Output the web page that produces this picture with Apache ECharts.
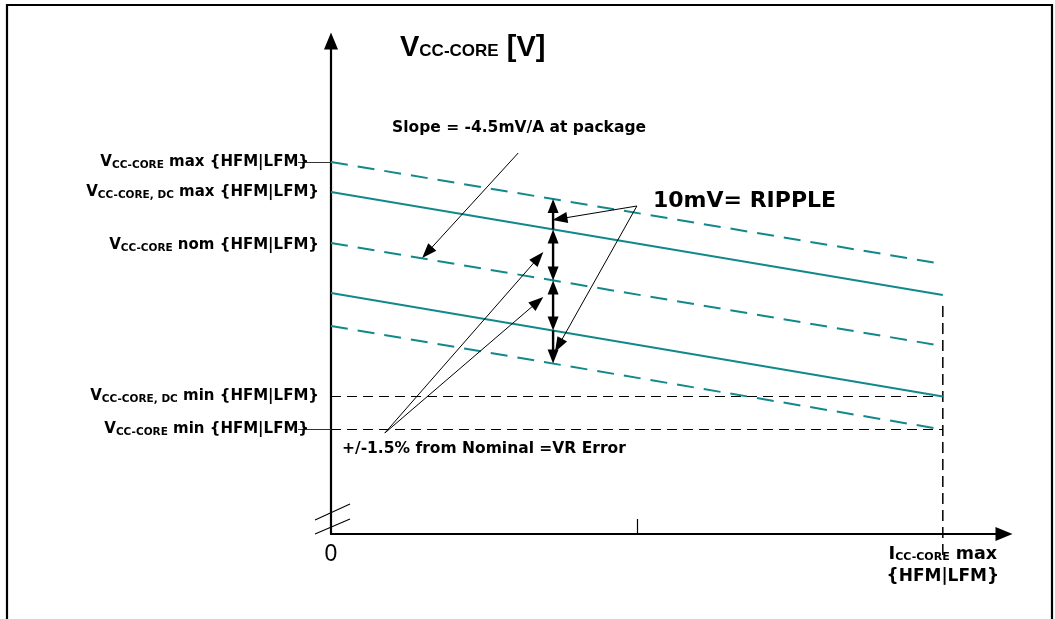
<!DOCTYPE html>
<html><head><meta charset="utf-8">
<script src="https://cdn.jsdelivr.net/npm/echarts@6/dist/echarts.min.js"></script>
<style>html,body{margin:0;padding:0;background:#fff}#c{width:1055px;height:619px}</style>
</head><body><div id="c"></div>
<script>
// ---------------- data (x: load current, Icc max = 100; y: voltage, relative units) ----------------
const loadCurrent = [0, 100];
const vccMax   = [372, 270];   // dashed
const vccDcMax = [342, 239];   // solid
const vccNom   = [291, 188];   // dashed
const vccDcMin = [241, 137.5]; // solid
const vccMin   = [208, 104.5]; // dashed
const dcMinLevel = 137.5;
const minLevel = 104.5;
const iccMax = 100;
const iccMaxLineSpan = [-21, 231];
const midTick = 50;

// tick labels
const yLabelValues = [372, 342, 289, 137.5, 104.5];
const yLabelTexts = [
  '{v|V}{s|CC-CORE}{t| max {HFM|LFM}}{p| }',
  '{v|V}{s|CC-CORE, DC}{t| max {HFM|LFM}}',
  '{v|V}{s|CC-CORE}{t| nom {HFM|LFM}}',
  '{v|V}{s|CC-CORE, DC}{t| min {HFM|LFM}}',
  '{v|V}{s|CC-CORE}{t| min {HFM|LFM}}{p| }'
];
const yConnectorValues = [372, 104.5];
const xLabelValues = [0, 100];
const xLabelTexts = ['{z|0}', '{i|I}{s|CC-CORE}{m| max}\n{b|{HFM|LFM}}'];
const titleText = '{v|V}{s|CC-CORE}{v| [V]}';

// annotation texts
const slopeText = 'Slope = -4.5mV/A at package';
const rippleText = '10mV= RIPPLE';
const vrText = '+/-1.5% from Nominal =VR Error';

// annotation arrows in data coordinates: [x1, y1, x2, y2, headAtStart, headAtEnd]
const rippleX = 36.3;
const rippleArrows = [
  [rippleX, 304.6, rippleX, 335.0, 0, 1],
  [rippleX, 304.6, rippleX, 253.6, 1, 1],
  [rippleX, 253.6, rippleX, 203.6, 1, 1],
  [rippleX, 203.6, rippleX, 170.6, 0, 1]
];
const pointerArrows = [
  [30.6, 381, 14.9, 276, 0, 1],
  [50.0, 328, 36.2, 314, 0, 1],
  [50.0, 328, 36.6, 182, 0, 1],
  [8.8, 101, 34.7, 282, 0, 1],
  [8.8, 101, 34.7, 237, 0, 1]
];

// ---------------- chart ----------------
const TEAL = '#11898b';
const LBL = 'DejaVu Sans';
const chart = echarts.init(document.getElementById('c'), null, {renderer: 'canvas'});

function pairs(xs, ys) { return xs.map((x, i) => [x, ys[i]]); }

function arrowShapes(p1, p2, hs, he, lw, hl, hw, color) {
  const dx = p2[0] - p1[0], dy = p2[1] - p1[1];
  const len = Math.hypot(dx, dy) || 1;
  const ux = dx / len, uy = dy / len;
  const k = hl - 3;
  const a = hs ? [p1[0] + ux * k, p1[1] + uy * k] : p1;
  const b = he ? [p2[0] - ux * k, p2[1] - uy * k] : p2;
  const out = [{type: 'line', shape: {x1: a[0], y1: a[1], x2: b[0], y2: b[1]}, style: {stroke: color, lineWidth: lw}}];
  function head(tip, vx, vy) {
    const bx = tip[0] - vx * hl, by = tip[1] - vy * hl;
    out.push({type: 'polygon', shape: {points: [tip, [bx - vy * hw, by + vx * hw], [bx + vy * hw, by - vx * hw]]},
      style: {fill: color}});
  }
  if (he) head(p2, ux, uy);
  if (hs) head(p1, -ux, -uy);
  return out;
}
function arrowSeries(data, lw, hl, hw) {
  return {
    type: 'custom', silent: true, clip: false, z: 5,
    encode: {x: [0, 2], y: [1, 3]},
    data: data,
    renderItem: function (params, api) {
      const p1 = api.coord([api.value(0), api.value(1)]);
      const p2 = api.coord([api.value(2), api.value(3)]);
      return {type: 'group', children: arrowShapes(p1, p2, api.value(4), api.value(5), lw, hl, hw, '#000')};
    }
  };
}
function lineSeries(data, color, width, dash, z) {
  return {
    type: 'line', data: data, showSymbol: false, symbol: 'none', silent: true, clip: false, z: z || 2,
    lineStyle: {color: color, width: width, type: dash || 'solid'}
  };
}

const subPad = [6, 0, 0, 0];
const option = {
  animation: false,
  backgroundColor: '#fff',
  textStyle: {fontFamily: LBL},
  title: {
    text: titleText, left: 395, top: 28,
    textStyle: {
      rich: {
        v: {fontFamily: 'Liberation Sans', fontWeight: 'bold', fontSize: 29, color: '#000'},
        s: {fontFamily: 'Liberation Sans', fontWeight: 'bold', fontSize: 17, color: '#000', padding: [8, 0, 0, 0]}
      }
    }
  },
  grid: {left: 331, right: 51, top: 41, bottom: 85, containLabel: false},
  xAxis: {
    type: 'value', min: 0, max: 110,
    splitLine: {show: false},
    axisLine: {show: true, onZero: false, symbol: ['none', 'triangle'], symbolSize: [14, 17],
      lineStyle: {color: '#000', width: 2.2}},
    axisTick: {show: true, inside: true, length: 15, customValues: [midTick], lineStyle: {color: '#000', width: 1.2}},
    axisLabel: {
      show: true, customValues: xLabelValues, margin: 9, color: '#000',
      formatter: v => xLabelTexts[xLabelValues.indexOf(v)],
      rich: {
        z: {fontFamily: 'Liberation Sans', fontWeight: 'normal', fontSize: 23, color: '#000', lineHeight: 24},
        i: {fontFamily: LBL, fontWeight: 'bold', fontSize: 18, color: '#000', lineHeight: 23},
        s: {fontFamily: LBL, fontWeight: 'bold', fontSize: 11, color: '#000', padding: subPad},
        m: {fontFamily: LBL, fontWeight: 'bold', fontSize: 17.5, color: '#000'},
        b: {fontFamily: LBL, fontWeight: 'bold', fontSize: 17, color: '#000', lineHeight: 22}
      },
      fontFamily: LBL, fontWeight: 'bold', fontSize: 17
    }
  },
  yAxis: {
    type: 'value', min: 0, max: 493,
    splitLine: {show: false},
    axisLine: {show: true, onZero: false, symbol: ['none', 'triangle'], symbolSize: [14, 17],
      lineStyle: {color: '#000', width: 2.2}},
    axisTick: {show: true, inside: false, length: 33, customValues: yConnectorValues,
      lineStyle: {color: '#333', width: 1}},
    axisLabel: {
      show: true, customValues: yLabelValues, margin: 12, color: '#000',
      fontFamily: LBL, fontWeight: 'bold', fontSize: 15,
      formatter: v => yLabelTexts[yLabelValues.indexOf(v)],
      rich: {
        v: {fontFamily: LBL, fontWeight: 'bold', fontSize: 15, color: '#000'},
        s: {fontFamily: LBL, fontWeight: 'bold', fontSize: 10.5, color: '#000', padding: subPad},
        t: {fontFamily: LBL, fontWeight: 'bold', fontSize: 15, color: '#000'},
        p: {fontSize: 15, width: 10}
      }
    }
  },
  graphic: [
    {type: 'rect', silent: true, shape: {x: 7, y: 5, width: 1045, height: 700},
      style: {fill: 'none', stroke: '#000', lineWidth: 2.2}},
    {type: 'line', silent: true, shape: {x1: 315, y1: 520, x2: 350, y2: 504}, style: {stroke: '#000', lineWidth: 1.1}},
    {type: 'line', silent: true, shape: {x1: 315, y1: 534, x2: 350, y2: 519}, style: {stroke: '#000', lineWidth: 1.1}},
    {type: 'text', silent: true, x: 392, y: 128,
      style: {text: slopeText, font: 'bold 15.5px "DejaVu Sans"', fill: '#000', align: 'left', verticalAlign: 'middle',
        textAlign: 'left', textVerticalAlign: 'middle'}},
    {type: 'text', silent: true, x: 653, y: 201,
      style: {text: rippleText, font: 'bold 22px "DejaVu Sans"', fill: '#000', align: 'left', verticalAlign: 'middle',
        textAlign: 'left', textVerticalAlign: 'middle'}},
    {type: 'text', silent: true, x: 342, y: 449,
      style: {text: vrText, font: 'bold 15.5px "DejaVu Sans"', fill: '#000', align: 'left', verticalAlign: 'middle',
        textAlign: 'left', textVerticalAlign: 'middle'}}
  ],
  series: [
    lineSeries(pairs(loadCurrent, vccMax), TEAL, 2, [17, 10]),
    lineSeries(pairs(loadCurrent, vccDcMax), TEAL, 2, 'solid'),
    lineSeries(pairs(loadCurrent, vccNom), TEAL, 2, [17, 10]),
    lineSeries(pairs(loadCurrent, vccDcMin), TEAL, 2, 'solid'),
    lineSeries(pairs(loadCurrent, vccMin), TEAL, 2, [17, 10]),
    lineSeries([[0, dcMinLevel], [iccMax, dcMinLevel]], '#000', 1.1, [10, 6], 1),
    lineSeries([[0, minLevel], [iccMax, minLevel]], '#000', 1.1, [10, 6], 1),
    lineSeries([[iccMax, iccMaxLineSpan[0]], [iccMax, iccMaxLineSpan[1]]], '#000', 1.5, [11, 6], 1),
    arrowSeries(rippleArrows, 2.4, 14, 5.5),
    arrowSeries(pointerArrows, 1, 15, 5.5)
  ]
};
chart.setOption(option);
</script></body></html>
